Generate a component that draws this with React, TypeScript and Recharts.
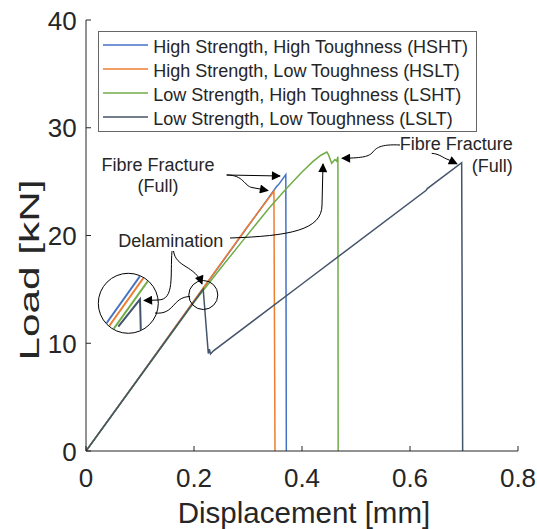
import React from 'react';
import { Line, LineChart, XAxis, YAxis } from 'recharts';

// Load-displacement curves for the four laminate variants.
const hshtDisplacement = [0, 0.1, 0.2, 0.3, 0.353, 0.357, 0.37, 0.371];
const hshtLoad = [0, 6.95, 13.9, 20.85, 24.55, 24.75, 25.65, 0];

const hsltDisplacement = [0, 0.1, 0.2, 0.3, 0.348, 0.35];
const hsltLoad = [0, 6.95, 13.95, 20.9, 24.1, 0];

const lshtDisplacement = [
  0, 0.1, 0.15, 0.2, 0.25, 0.29, 0.34, 0.37, 0.4, 0.42, 0.435, 0.446, 0.449,
  0.455, 0.461, 0.464, 0.4665, 0.467,
];
const lshtLoad = [
  0, 6.9, 10.35, 13.8, 17.0, 19.5, 22.6, 24.3, 25.9, 26.85, 27.45, 27.75, 27.5,
  26.7, 27.05, 26.9, 27.3, 0,
];

const lsltDisplacement = [
  0, 0.1, 0.217, 0.2265, 0.2285, 0.2305, 0.236, 0.4, 0.63, 0.632, 0.6957,
  0.6975,
];
const lsltLoad = [0, 6.92, 15.03, 9.05, 9.45, 9.0, 9.3, 15.5, 24.2, 24.35, 26.76, 0];

const seriesNames = [
  'High Strength, High Toughness (HSHT)',
  'High Strength, Low Toughness (HSLT)',
  'Low Strength, High Toughness (LSHT)',
  'Low Strength, Low Toughness (LSLT)',
];
const seriesColors = ['#4472C4', '#ED7D31', '#70AD47', '#44546A'];

const xTicks = [0, 0.2, 0.4, 0.6, 0.8];
const xTickLabels = ['0', '0.2', '0.4', '0.6', '0.8'];
const yTicks = [0, 10, 20, 30, 40];
const yTickLabels = ['0', '10', '20', '30', '40'];

const zip = (xs: number[], ys: number[]) => xs.map((x, i) => ({ x, y: ys[i] }));

const series = [
  zip(hshtDisplacement, hshtLoad),
  zip(hsltDisplacement, hsltLoad),
  zip(lshtDisplacement, lshtLoad),
  zip(lsltDisplacement, lsltLoad),
];

const WIDTH = 529;
const HEIGHT = 521;
const AXIS = '#262626';
const FONT = '"Liberation Sans", Arial, Helvetica, sans-serif';
const TICK_LEN = 5;

const BottomTick = (props: any) => {
  const { x, y, index } = props;
  return (
    <g>
      <line x1={x} x2={x} y1={y} y2={y - TICK_LEN} stroke={AXIS} />
      <text x={x} y={y + 35.5} textAnchor='middle' fontSize={26} fill={AXIS}>
        {xTickLabels[index]}
      </text>
    </g>
  );
};

const LeftTick = (props: any) => {
  const { x, y, index } = props;
  return (
    <g>
      <line x1={x} x2={x + TICK_LEN} y1={y} y2={y} stroke={AXIS} />
      <text x={x - 9.3} y={y + 9.5} textAnchor='end' fontSize={26} fill={AXIS}>
        {yTickLabels[index]}
      </text>
    </g>
  );
};

const TopTick = (props: any) => (
  <line x1={props.x} x2={props.x} y1={props.y} y2={props.y + TICK_LEN} stroke={AXIS} />
);

const RightTick = (props: any) => (
  <line x1={props.x} x2={props.x - TICK_LEN} y1={props.y} y2={props.y} stroke={AXIS} />
);

// Hand-drawn callouts: arrows, magnifier circles and the legend box.
function Annotations() {
  return (
    <svg
      width={WIDTH}
      height={HEIGHT}
      style={{ position: 'absolute', left: 0, top: 0, pointerEvents: 'none', overflow: 'visible' }}
      fontFamily={FONT}
    >
      <defs>
        <marker
          id='head'
          viewBox='0 0 10 10'
          refX='9'
          refY='5'
          markerWidth='11'
          markerHeight='9'
          markerUnits='userSpaceOnUse'
          orient='auto'
        >
          <path d='M0,0 L10,5 L0,10 z' fill='#000' />
        </marker>
        <clipPath id='lens'>
          <circle cx={120.3} cy={295.3} r={29.5} />
        </clipPath>
      </defs>

      {/* legend */}
      <rect x={90.5} y={23.5} width={378} height={100} fill='#fff' stroke='#666' />
      {seriesNames.map((name, i) => {
        const rowY = 37 + i * 24;
        return (
          <g key={name}>
            <line x1={95} x2={140} y1={rowY} y2={rowY} stroke={seriesColors[i]} strokeWidth={1.5} />
            <text x={145.3} y={rowY + 8.3} fontSize={18} fill={AXIS}>
              {name}
            </text>
          </g>
        );
      })}

      <g fill='none' stroke='#000' strokeWidth={1}>
        {/* fibre fracture, high strength */}
        <path d='M218.7,167 L272,168' markerEnd='url(#head)' />
        <path d='M218.7,167 C236,167 236,178 244,179.5 L260,182.5' markerEnd='url(#head)' />
        {/* delamination -> LSHT peak */}
        <path d='M222,230 C282,228 314,222 314,197 L315,156' markerEnd='url(#head)' />
        {/* delamination -> circles */}
        <path d='M164,243 C162,267 167,292 150,292 L136,292.5' markerEnd='url(#head)' />
        <path d='M165.5,243 C168,260 187,257 194,276' markerEnd='url(#head)' />
        <path d='M147,305 C167,307 164,289 182,288.5' />
        {/* fibre fracture, low strength */}
        <path d='M392,137 C372,136 368,140 364,145 C360,149 352,150 334,150.3' markerEnd='url(#head)' />
        <path d='M423.7,145.3 C432,146 435,150 440,151.5 L449,155.8' markerEnd='url(#head)' />

        <circle cx={195.3} cy={287} r={14.5} />
        <circle cx={120.3} cy={295.3} r={30} />
      </g>

      {/* magnified view of the delamination drop */}
      <g clipPath='url(#lens)' fill='none' strokeWidth={2}>
        <line x1={94} y1={321.5} x2={136} y2={262.5} stroke={seriesColors[0]} />
        <line x1={98} y1={322.5} x2={140} y2={263.5} stroke={seriesColors[1]} />
        <line x1={102} y1={326} x2={146} y2={264.5} stroke={seriesColors[2]} />
        <polyline points='110.3,318.7 132,291.3 133,330' stroke={seriesColors[3]} />
      </g>

      <g fontSize={18} fill={AXIS}>
        <text x={150} y={162.7} textAnchor='middle'>Fibre Fracture</text>
        <text x={150} y={183.7} textAnchor='middle'>(Full)</text>
        <text x={504.7} y={142} textAnchor='end'>Fibre Fracture</text>
        <text x={504.7} y={163.7} textAnchor='end'>(Full)</text>
        <text x={110.3} y={239.3}>Delamination</text>
      </g>

      <text x={296} y={515.3} textAnchor='middle' fontSize={29.5} fill={AXIS}>
        Displacement [mm]
      </text>
      <text
        transform='translate(31,262) rotate(-90)'
        textAnchor='middle'
        fontSize={28}
        textLength={181}
        lengthAdjust='spacingAndGlyphs'
        fill={AXIS}
      >
        Load [kN]
      </text>
    </svg>
  );
}

export default function App() {
  return (
    <div
      style={{
        position: 'absolute',
        left: 8,
        top: 8,
        width: WIDTH,
        height: HEIGHT,
        fontFamily: FONT,
      }}
    >
      <style>{'.recharts-surface { overflow: visible; }'}</style>
      <LineChart
        width={WIDTH}
        height={HEIGHT}
        margin={{ top: 12, right: 19, bottom: 0, left: 0 }}
      >
        <XAxis
          type='number'
          dataKey='x'
          domain={[0, 0.8]}
          ticks={xTicks}
          height={78}
          tickSize={0}
          tickMargin={0}
          tickLine={false}
          tick={BottomTick}
          stroke={AXIS}
          allowDataOverflow
        />
        <XAxis
          xAxisId='top'
          orientation='top'
          type='number'
          domain={[0, 0.8]}
          ticks={xTicks}
          height={0}
          tickSize={0}
          tickMargin={0}
          tickLine={false}
          tick={TopTick}
          stroke={AXIS}
        />
        <YAxis
          type='number'
          domain={[0, 40]}
          ticks={yTicks}
          width={78}
          tickSize={0}
          tickMargin={0}
          tickLine={false}
          tick={LeftTick}
          stroke={AXIS}
          allowDataOverflow
        />
        <YAxis
          yAxisId='right'
          orientation='right'
          type='number'
          domain={[0, 40]}
          ticks={yTicks}
          width={0}
          tickSize={0}
          tickMargin={0}
          tickLine={false}
          tick={RightTick}
          stroke={AXIS}
        />
        {series.map((data, i) => (
          <Line
            key={seriesNames[i]}
            data={data}
            dataKey='y'
            type='linear'
            stroke={seriesColors[i]}
            strokeWidth={1.5}
            dot={false}
            isAnimationActive={false}
          />
        ))}
      </LineChart>
      <Annotations />
    </div>
  );
}
